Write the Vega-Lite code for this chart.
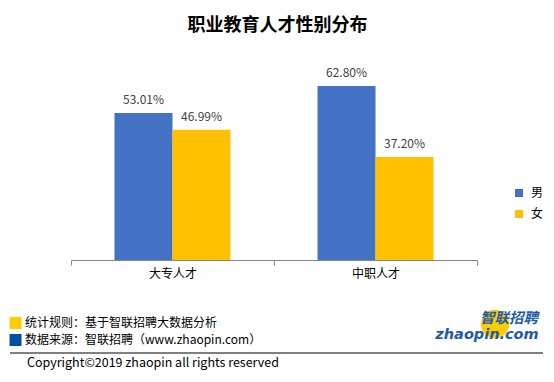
{
  "$schema": "https://vega.github.io/schema/vega-lite/v6.json",
  "width": 535,
  "height": 194,
  "autosize": {"type": "none"},
  "padding": {"left": 10, "top": 66, "right": 9, "bottom": 122},
  "background": "white",
  "title": {"text": "职业教育人才性别分布", "fontSize": 18, "fontWeight": "bold", "font": "Noto Sans CJK SC", "color": "#000000", "offset": 31},
  "config": {"view": {"stroke": null}, "font": "Noto Sans CJK SC"},
  "layer": [
    {
      "data": {"values": [
        {"cat": "大专人才", "sex": "男", "value": 0.5301},
        {"cat": "大专人才", "sex": "女", "value": 0.4699},
        {"cat": "中职人才", "sex": "男", "value": 0.628},
        {"cat": "中职人才", "sex": "女", "value": 0.372}
      ]},
      "encoding": {
        "x": {"field": "cat", "type": "nominal", "sort": ["大专人才", "中职人才"],
          "scale": {"range": [61, 467], "paddingInner": 0, "paddingOuter": 0},
          "axis": {"title": null, "labelAngle": 0, "domainColor": "#868686", "tickColor": "#868686", "tickBand": "extent", "tickSize": 5, "labelFontSize": 12, "labelColor": "#000000", "labelPadding": 3, "labelFont": "Noto Sans CJK SC"}},
        "xOffset": {"field": "sex", "type": "nominal", "sort": ["男", "女"], "scale": {"paddingInner": 0, "paddingOuter": 0.75}},
        "y": {"field": "value", "type": "quantitative", "scale": {"domain": [0, 0.7]}, "axis": null}
      },
      "layer": [
        {"mark": {"type": "bar"},
          "encoding": {"color": {"field": "sex", "type": "nominal", "scale": {"domain": ["男", "女"], "range": ["#4472C4", "#FFC000"]},
            "legend": {"title": null, "orient": "none", "legendX": 503, "legendY": 121, "symbolType": "square", "symbolSize": 64, "symbolStrokeWidth": 0, "labelFontSize": 12, "labelColor": "#000000", "rowPadding": 9, "labelOffset": 6}}}},
        {"mark": {"type": "text", "dy": -13, "fontSize": 12, "color": "#404040"},
          "encoding": {"text": {"field": "value", "type": "quantitative", "format": ".2%"}}}
      ]
    },
    {
      "data": {"values": [{"label": "统计规则：基于智联招聘大数据分析"}]},
      "layer": [
        {"mark": {"type": "square", "color": "#FFCC00", "opacity": 1, "size": 144}, "encoding": {"x": {"value": 5.5}, "y": {"value": 257}}},
        {"mark": {"type": "text", "align": "left", "baseline": "middle", "fontSize": 12, "color": "#000000"}, "encoding": {"x": {"value": 15}, "y": {"value": 257}, "text": {"field": "label"}}}
      ]
    },
    {
      "data": {"values": [{"label": "数据来源：智联招聘（www.zhaopin.com）"}]},
      "layer": [
        {"mark": {"type": "square", "color": "#0050A0", "opacity": 1, "size": 144}, "encoding": {"x": {"value": 5.5}, "y": {"value": 274}}},
        {"mark": {"type": "text", "align": "left", "baseline": "middle", "fontSize": 12, "color": "#000000"}, "encoding": {"x": {"value": 15}, "y": {"value": 274}, "text": {"field": "label"}}}
      ]
    },
    {
      "data": {"values": [{"label": "Copyright©2019 zhaopin all rights reserved"}]},
      "layer": [
        {"mark": {"type": "rule", "color": "#000000", "strokeWidth": 1}, "encoding": {"x": {"value": 0}, "x2": {"value": 533}, "y": {"value": 287}}},
        {"mark": {"type": "text", "align": "left", "baseline": "middle", "fontSize": 12.5, "color": "#000000"}, "encoding": {"x": {"value": 17}, "y": {"value": 296.5}, "text": {"field": "label"}}}
      ]
    },
    {
      "data": {"values": [{"brand": "智联招聘", "site": "zhaopin.com"}]},
      "layer": [
        {"mark": {"type": "circle", "color": "#FFCC00", "opacity": 1, "size": 800}, "encoding": {"x": {"value": 485}, "y": {"value": 258}}},
        {"mark": {"type": "text", "align": "center", "baseline": "middle", "fontSize": 14.5, "fontWeight": "bold", "fontStyle": "italic", "color": "#1F5CA8"}, "encoding": {"x": {"value": 499}, "y": {"value": 253}, "text": {"field": "brand"}}},
        {"mark": {"type": "text", "align": "center", "baseline": "middle", "fontSize": 14.5, "fontWeight": "bold", "fontStyle": "italic", "color": "#1F5CA8", "font": "DejaVu Sans"}, "encoding": {"x": {"value": 477}, "y": {"value": 269}, "text": {"field": "site"}}}
      ]
    }
  ]
}
